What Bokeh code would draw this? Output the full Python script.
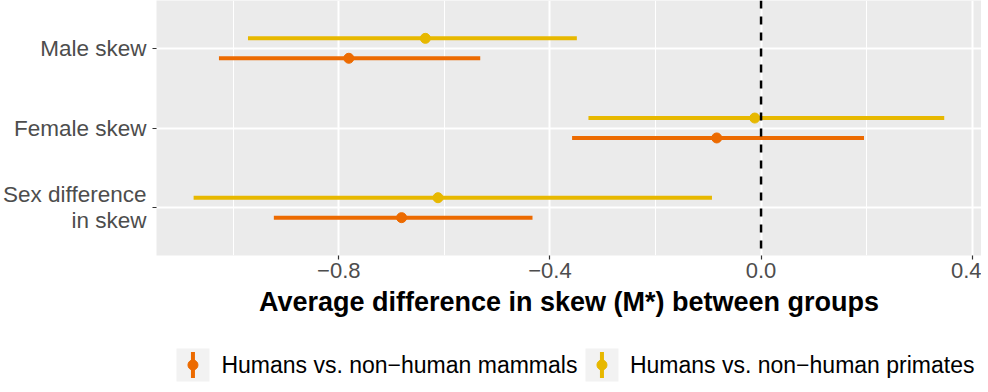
from bokeh.plotting import figure
from bokeh.models import Range1d, FixedTicker, Span, ColumnDataSource
from bokeh.layouts import column
from bokeh.embed import file_html
from bokeh.resources import INLINE
from bokeh.core.properties import value

# ---------------- data ----------------
categories = ["Male skew", "Female skew", "Sex difference\nin skew"]
cat_pos = [3, 2, 1]

series_names = ["Humans vs. non\u2212human mammals", "Humans vs. non\u2212human primates"]
series_colors = ["#EC6A00", "#E7B800"]
series_offset = [-0.125, 0.125]

mammals_est = [-0.781, -0.084, -0.681]
mammals_lo = [-1.027, -0.358, -0.923]
mammals_hi = [-0.532, 0.195, -0.433]

primates_est = [-0.636, -0.012, -0.612]
primates_lo = [-0.972, -0.327, -1.075]
primates_hi = [-0.349, 0.347, -0.093]

x_ticks = [-0.8, -0.4, 0.0, 0.4]
x_tick_labels = ["\u22120.8", "\u22120.4", "0.0", "0.4"]
x_minor = [-1.0, -0.6, -0.2, 0.2]

FONT = "Liberation Sans"

FRAME_L, FRAME_W, FRAME_H = 155, 826, 255

p = figure(width=FRAME_L + FRAME_W, height=FRAME_H + 75, output_backend="svg",
           toolbar_location=None,
           x_range=Range1d(-1.1453, 0.4176), y_range=Range1d(0.4, 3.6),
           min_border_left=FRAME_L, min_border_right=0, min_border_top=0,
           min_border_bottom=75)
p.background_fill_color = "#EBEBEB"
p.border_fill_color = "white"
p.outline_line_color = None

# grid
p.xaxis.ticker = FixedTicker(ticks=x_ticks, minor_ticks=x_minor)
p.yaxis.ticker = FixedTicker(ticks=cat_pos, minor_ticks=[])
p.xgrid.grid_line_color = "white"
p.xgrid.grid_line_width = 2
p.xgrid.minor_grid_line_color = "white"
p.xgrid.minor_grid_line_width = 1
p.ygrid.grid_line_color = "white"
p.ygrid.grid_line_width = 2

# axes
p.xaxis.major_label_overrides = dict(zip(x_ticks, x_tick_labels))
p.yaxis.major_label_overrides = dict(zip(cat_pos, categories))
for ax in (p.xaxis[0], p.yaxis[0]):
    ax.axis_line_color = None
    ax.major_tick_line_color = "#333333"
    ax.major_tick_line_width = 1.2
    ax.major_tick_in = 0
    ax.major_tick_out = 4
    ax.minor_tick_line_color = None
    ax.major_label_text_color = "#4D4D4D"
    ax.major_label_text_font = FONT
p.xaxis.major_label_text_font_size = "22px"
p.yaxis.major_label_text_font_size = "22.5px"
p.yaxis.major_label_text_line_height = 1.05
p.xaxis.major_label_standoff = 3
p.yaxis.major_label_standoff = 6
p.xaxis.axis_label = "Average difference in skew (M*) between groups"
p.xaxis.axis_label_text_font = FONT
p.xaxis.axis_label_text_font_size = "27px"
p.xaxis.axis_label_text_font_style = "bold"
p.xaxis.axis_label_text_color = "black"
p.xaxis.axis_label_standoff = 6

# data
for est, lo, hi, color, off in [
    (mammals_est, mammals_lo, mammals_hi, series_colors[0], series_offset[0]),
    (primates_est, primates_lo, primates_hi, series_colors[1], series_offset[1]),
]:
    src = ColumnDataSource(dict(y=[c + off for c in cat_pos], est=est, lo=lo, hi=hi))
    p.segment(x0="lo", x1="hi", y0="y", y1="y", source=src, line_color=color, line_width=4)
    p.scatter(x="est", y="y", source=src, size=10, fill_color=color, line_color=color)

p.add_layout(Span(location=0, dimension="height", line_color="black",
                  line_width=2.5, line_dash="8 8"))

# ---------------- legend (own small panel, frame aligned with the main one) ----------------
LH = 54
leg = figure(width=FRAME_L + FRAME_W, height=LH, output_backend="svg", toolbar_location=None,
             x_range=Range1d(FRAME_L, FRAME_L + FRAME_W), y_range=Range1d(LH, 0),
             x_axis_type=None, y_axis_type=None,
             min_border_left=FRAME_L, min_border_right=0, min_border_top=0, min_border_bottom=0)
leg.outline_line_color = None
leg.grid.visible = False
leg.background_fill_color = "white"
leg.border_fill_color = "white"

key_cx = [191.5, 601]
key_cy = 34.5
text_x = [220, 629]
leg.rect(x=key_cx, y=[key_cy] * 2, width=33, height=33, fill_color="#F2F2F2", line_color=None)
leg.segment(x0=key_cx, x1=key_cx, y0=[key_cy - 13] * 2, y1=[key_cy + 13] * 2,
            line_color=series_colors, line_width=4)
leg.scatter(x=key_cx, y=[key_cy] * 2, size=10, fill_color=series_colors, line_color=series_colors)
leg.text(x=text_x, y=[key_cy] * 2, text=series_names, text_font=value(FONT),
         text_font_size="23px", text_baseline="middle", text_align="left", text_color="black")

layout = column(p, leg, spacing=0)
open("out.html", "w").write(file_html(layout, INLINE))
